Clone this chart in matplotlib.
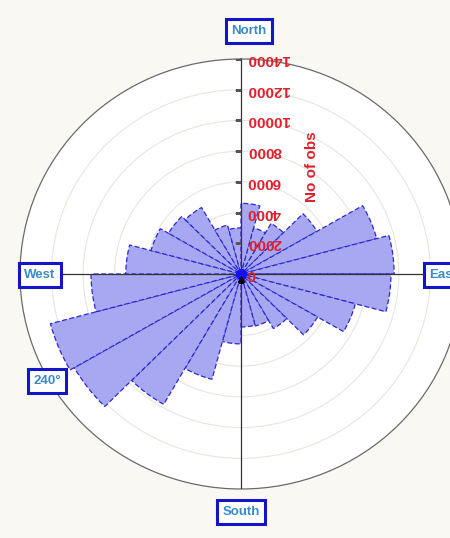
import matplotlib

matplotlib.use("Agg")

import matplotlib.pyplot as plt
import matplotlib.transforms as mtransforms
import numpy as np

# 24 direction bins of 15 degrees, clockwise from North
bin_starts = list(range(0, 360, 15))
counts = [
    4600, 3100, 3800, 5550, 8900, 9700,
    9500, 7500, 5600, 4100, 3500, 3450,
    4550, 7100, 9800, 12200, 12500, 9500,
    7300, 5900, 5300, 5000, 3300, 3000,
]
radial_ticks = [0, 2000, 4000, 6000, 8000, 10000, 12000, 14000]
radial_label = "No of obs"
compass_labels = ["North", "East", "South", "West", "240°"]

WIDTH, HEIGHT = 450, 538
CENTER = (241, 274)
RADIUS_X, RADIUS_Y = 221, 215


def fig_xy(px, py):
    return px / WIDTH, 1 - py / HEIGHT


def add_box_label(figure, text, px, py):
    x, y = fig_xy(px, py)
    figure.text(
        x, y, text,
        ha="center", va="center",
        fontsize=9.5, fontweight="bold", color="#3a8ac8",
        family=["Liberation Sans", "DejaVu Sans"],
        bbox=dict(boxstyle="square,pad=0.42", fc="white", ec="#1414c8", lw=2.2),
    )


figure = plt.figure(figsize=(WIDTH / 100, HEIGHT / 100), dpi=100)
figure.patch.set_facecolor("#faf8f3")

left = (CENTER[0] - RADIUS_X) / WIDTH
bottom = (HEIGHT - CENTER[1] - RADIUS_Y) / HEIGHT
ax = figure.add_axes(
    [left, bottom, 2 * RADIUS_X / WIDTH, 2 * RADIUS_Y / HEIGHT],
    projection="polar",
)
ax.set_theta_zero_location("N")
ax.set_theta_direction(-1)
ax.set_facecolor("white")

theta = np.radians(np.array(bin_starts) + 7.5)
ax.bar(
    theta, counts,
    width=np.radians(15),
    color="#a8a8f2",
    edgecolor="#2a2ad0",
    linewidth=0.9,
    linestyle=(0, (4, 2)),
    zorder=3,
)

ax.set_ylim(0, radial_ticks[-1])
ax.set_yticks(radial_ticks[1:-1])
ax.set_yticklabels([])
ax.yaxis.grid(True, color="#e6e6e0", linewidth=0.8)
ax.set_xticks(np.radians(np.arange(0, 360, 15)))
ax.set_xticklabels([])
ax.xaxis.grid(False)
ax.tick_params(axis="x", length=3, color="#777777", direction="out")
ax.spines["polar"].set_color("#6a6a6a")
ax.spines["polar"].set_linewidth(0.9)
ax.set_aspect("auto")

# axis cross through the centre
for angle in [0, 90, 180, 270]:
    ax.plot([np.radians(angle)] * 2, [0, radial_ticks[-1]], color="#333333", lw=0.9, zorder=4)

# radial ticks and upside-down labels along the North axis
ax.plot([0] * len(radial_ticks), radial_ticks, linestyle="none",
        marker=0, markersize=4, color="#555555", zorder=4)
label_transform = mtransforms.offset_copy(ax.transData, fig=figure, x=6, y=0, units="dots")
for value in radial_ticks:
    ax.text(0, value, str(value), transform=label_transform,
            rotation=180, ha="left", va="center",
            fontsize=11, fontweight="bold", color="#e0202a",
            family="Liberation Sans", zorder=6)

ax.plot([0], [0], marker="o", markersize=7, color="#1010ff", zorder=7)
ax.plot([0], [0], marker="^", markersize=4, color="black", zorder=8,
        transform=mtransforms.offset_copy(ax.transData, fig=figure, x=0, y=-5, units="dots"))

x, y = fig_xy(312, 167)
figure.text(x, y, radial_label, rotation=90, ha="center", va="center",
            fontsize=11, fontweight="bold", color="#e0202a", family="Liberation Sans")

add_box_label(figure, compass_labels[0], 249, 31)
add_box_label(figure, compass_labels[1], 443, 275)
add_box_label(figure, compass_labels[2], 241, 512)
add_box_label(figure, compass_labels[3], 40, 275)
add_box_label(figure, compass_labels[4], 47, 381)

figure.savefig("out.png", dpi=100, facecolor=figure.get_facecolor())
